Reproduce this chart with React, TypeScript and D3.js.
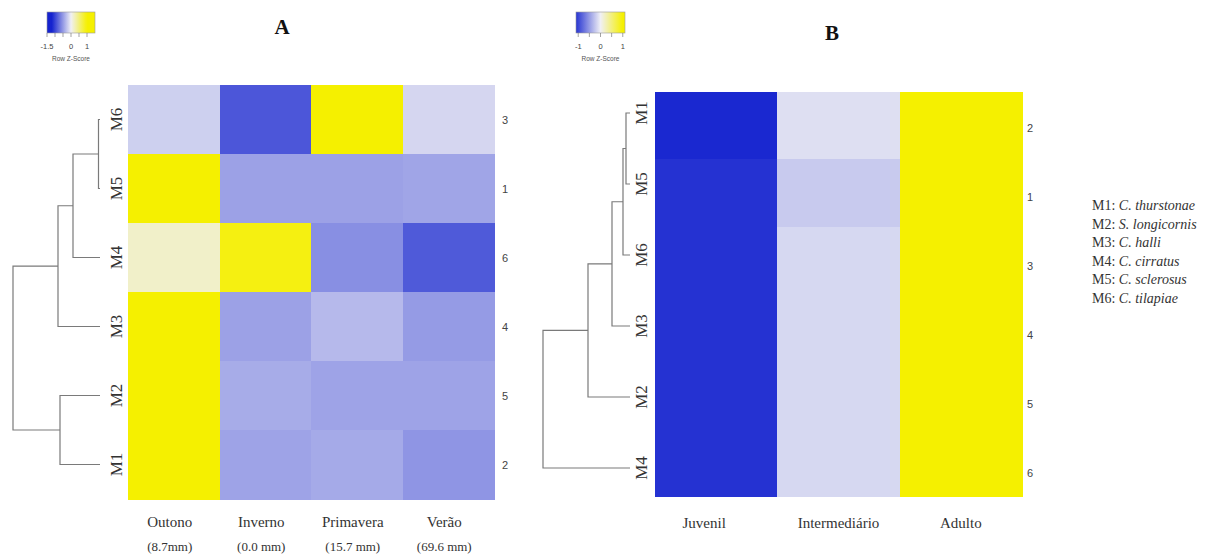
import React, { useEffect, useRef } from "react";
import * as d3 from "d3";

// panel A: seasons
const seasons = ["Outono", "Inverno", "Primavera", "Verão"];
const rainfall = ["(8.7mm)", "(0.0 mm)", "(15.7 mm)", "(69.6 mm)"];
const rowsA = ["M6", "M5", "M4", "M3", "M2", "M1"];
const rowNumsA = ["3", "1", "6", "4", "5", "2"];
// row z-scores, one array per row (top to bottom)
const zA_M6 = [-0.19, -0.9, 1.45, -0.15];
const zA_M5 = [1.45, -0.46, -0.46, -0.44];
const zA_M4 = [0.18, 0.93, -0.57, -0.88];
const zA_M3 = [1.45, -0.46, -0.32, -0.5];
const zA_M2 = [1.45, -0.4, -0.45, -0.45];
const zA_M1 = [1.45, -0.45, -0.41, -0.53];
const zA = [zA_M6, zA_M5, zA_M4, zA_M3, zA_M2, zA_M1];

// panel B: life stages
const stages = ["Juvenil", "Intermediário", "Adulto"];
const rowsB = ["M1", "M5", "M6", "M3", "M2", "M4"];
const rowNumsB = ["2", "1", "3", "4", "5", "6"];
const zB_Juvenil = [-1.17, -1.11, -1.11, -1.11, -1.11, -1.11];
const zB_Intermediario = [-0.1, -0.22, -0.14, -0.14, -0.14, -0.14];
const zB_Adulto = [1.15, 1.15, 1.15, 1.15, 1.15, 1.15];
const zB = [zB_Juvenil, zB_Intermediario, zB_Adulto];

// dendrograms (merge heights)
const treeA = {
  h: 87,
  children: [
    { h: 42, children: [{ h: 27, children: [{ h: 1.5, children: [{ name: "M6" }, { name: "M5" }] }, { name: "M4" }] }, { name: "M3" }] },
    { h: 40, children: [{ name: "M2" }, { name: "M1" }] },
  ],
};
const treeB = {
  h: 87,
  children: [
    { h: 42, children: [{ h: 18, children: [{ h: 7, children: [{ h: 4, children: [{ name: "M1" }, { name: "M5" }] }, { name: "M6" }] }, { name: "M3" }] }, { name: "M2" }] },
    { name: "M4" },
  ],
};

const legendCodes = ["M1:", "M2:", "M3:", "M4:", "M5:", "M6:"];
const legendSpecies = ["C. thurstonae", "S. longicornis", "C. halli", "C. cirratus", "C. sclerosus", "C. tilapiae"];

const keyTicksA = [-1.5, -1, -0.5, 0, 0.5, 1];
const keyLabelsA = [-1.5, 0, 1];
const keyTicksB = [-1, -0.5, 0, 0.5, 1];
const keyLabelsB = [-1, 0, 1];

const color = d3
  .scaleLinear<string>()
  .domain([-1.2, 0, 1])
  .range(["#1523cf", "#f0f0f5", "#f5f000"])
  .clamp(true);

const serif = "'Liberation Serif', 'DejaVu Serif', serif";
const sans = "'Liberation Sans', Arial, sans-serif";

function drawDendro(g, tree, yOf, leafX) {
  const x = d3.scaleLinear().domain([0, tree.h]).range([leafX, leafX - tree.h]);
  const layout = (node) => {
    if (!node.children) {
      node.y = yOf(node.name);
      node.x = x(0);
      return;
    }
    node.children.forEach(layout);
    node.y = d3.mean(node.children, (c) => c.y);
    node.x = x(node.h);
    const [a, b] = node.children;
    g.append("path")
      .attr("d", `M${a.x},${a.y}H${node.x}V${b.y}H${b.x}`)
      .attr("fill", "none")
      .attr("stroke", "#7a7a7a")
      .attr("stroke-width", 1.2);
  };
  layout(tree);
}

function drawKey(svg, id, x0, x1, y0, y1, domain, ticks, labels) {
  const kx = d3.scaleLinear().domain(domain).range([x0, x1]);
  const grad = svg.append("defs").append("linearGradient").attr("id", id);
  d3.range(0, 1.0001, 0.05).forEach((t) => {
    grad
      .append("stop")
      .attr("offset", t)
      .attr("stop-color", color(domain[0] + t * (domain[1] - domain[0])));
  });
  svg
    .append("rect")
    .attr("x", x0)
    .attr("y", y0)
    .attr("width", x1 - x0)
    .attr("height", y1 - y0)
    .attr("fill", `url(#${id})`)
    .attr("stroke", "#999")
    .attr("stroke-width", 0.6);
  ticks.forEach((t) => {
    svg
      .append("line")
      .attr("x1", kx(t))
      .attr("x2", kx(t))
      .attr("y1", y1)
      .attr("y2", y1 + 4)
      .attr("stroke", "#666")
      .attr("stroke-width", 0.6);
  });
  labels.forEach((t) => {
    svg
      .append("text")
      .attr("x", kx(t))
      .attr("y", y1 + 16)
      .attr("text-anchor", "middle")
      .attr("font-family", sans)
      .attr("font-size", 7.5)
      .attr("fill", "#444")
      .text(t);
  });
  svg
    .append("text")
    .attr("x", (x0 + x1) / 2)
    .attr("y", y1 + 28)
    .attr("text-anchor", "middle")
    .attr("font-family", sans)
    .attr("font-size", 6.5)
    .attr("fill", "#555")
    .text("Row Z-Score");
}

export default function App() {
  const svgRef = useRef(null);

  useEffect(() => {
    const svg = d3.select(svgRef.current);
    svg.selectAll("*").remove();

    // ---- Panel A ----
    const xA = d3.scaleBand().domain(seasons).range([128, 494]);
    const yA = d3.scaleBand().domain(rowsA).range([85, 499]);

    const gA = svg.append("g");
    rowsA.forEach((r, i) => {
      seasons.forEach((s, j) => {
        gA.append("rect")
          .attr("x", xA(s))
          .attr("y", yA(r))
          .attr("width", xA.bandwidth() + 0.5)
          .attr("height", yA.bandwidth() + 0.5)
          .attr("fill", color(zA[i][j]))
          .attr("shape-rendering", "crispEdges");
      });
      gA.append("text")
        .attr("x", 502)
        .attr("y", yA(r) + yA.bandwidth() / 2 + 4)
        .attr("font-family", sans)
        .attr("font-size", 11)
        .attr("fill", "#444")
        .text(rowNumsA[i]);
      gA.append("text")
        .attr("transform", `translate(122,${yA(r) + yA.bandwidth() / 2}) rotate(-90)`)
        .attr("text-anchor", "middle")
        .attr("font-family", serif)
        .attr("font-size", 17)
        .attr("fill", "#333")
        .text(r);
    });
    seasons.forEach((s, j) => {
      const cx = xA(s) + xA.bandwidth() / 2 - 4;
      gA.append("text")
        .attr("x", cx)
        .attr("y", 527)
        .attr("text-anchor", "middle")
        .attr("font-family", serif)
        .attr("font-size", 15)
        .attr("fill", "#333")
        .text(s);
      gA.append("text")
        .attr("x", cx)
        .attr("y", 551)
        .attr("text-anchor", "middle")
        .attr("font-family", serif)
        .attr("font-size", 13)
        .attr("fill", "#333")
        .text(rainfall[j]);
    });
    drawDendro(gA, treeA, (n) => yA(n) + yA.bandwidth() / 2, 100);

    svg
      .append("text")
      .attr("x", 282)
      .attr("y", 34)
      .attr("text-anchor", "middle")
      .attr("font-family", serif)
      .attr("font-weight", "bold")
      .attr("font-size", 21)
      .attr("fill", "#111")
      .text("A");
    drawKey(svg, "keyA", 47, 95, 12, 33, [-1.5, 1.5], keyTicksA, keyLabelsA);

    // ---- Panel B ----
    const xB = d3.scaleBand().domain(stages).range([655, 1022]);
    const yB = d3.scaleBand().domain(rowsB).range([92, 496]);
    const leafB = d3.scalePoint().domain(rowsB).range([113, 468]);
    const numB = d3.scalePoint().domain(rowsB).range([128, 473]);

    const gB = svg.append("g");
    stages.forEach((s, j) => {
      rowsB.forEach((r, i) => {
        gB.append("rect")
          .attr("x", xB(s))
          .attr("y", yB(r))
          .attr("width", xB.bandwidth() + 0.5)
          .attr("height", yB.bandwidth() + 0.5)
          .attr("fill", color(zB[j][i]))
          .attr("shape-rendering", "crispEdges");
      });
      gB.append("text")
        .attr("x", xB(s) + xB.bandwidth() / 2 - (j === 0 ? 12 : 0))
        .attr("y", 528)
        .attr("text-anchor", "middle")
        .attr("font-family", serif)
        .attr("font-size", 15)
        .attr("fill", "#333")
        .text(s);
    });
    rowsB.forEach((r, i) => {
      gB.append("text")
        .attr("x", 1027)
        .attr("y", numB(r) + 4)
        .attr("font-family", sans)
        .attr("font-size", 11)
        .attr("fill", "#444")
        .text(rowNumsB[i]);
      gB.append("text")
        .attr("transform", `translate(647,${leafB(r)}) rotate(-90)`)
        .attr("text-anchor", "middle")
        .attr("font-family", serif)
        .attr("font-size", 17)
        .attr("fill", "#333")
        .text(r);
    });
    drawDendro(gB, treeB, (n) => leafB(n), 630);

    svg
      .append("text")
      .attr("x", 832)
      .attr("y", 40)
      .attr("text-anchor", "middle")
      .attr("font-family", serif)
      .attr("font-weight", "bold")
      .attr("font-size", 21)
      .attr("fill", "#111")
      .text("B");
    drawKey(svg, "keyB", 576, 625, 12, 33, [-1.1, 1.1], keyTicksB, keyLabelsB);

    // species legend
    const lg = svg.append("g").attr("font-family", serif).attr("font-size", 14).attr("fill", "#333");
    legendCodes.forEach((c, i) => {
      const t = lg.append("text").attr("x", 1092).attr("y", 210 + i * 18.5);
      t.append("tspan").text(c + " ");
      t.append("tspan").attr("font-style", "italic").text(legendSpecies[i]);
    });
  }, []);

  return (
    <svg
      ref={svgRef}
      width={1218}
      height={556}
      style={{ position: "absolute", left: 0, top: 0, background: "#fff" }}
    />
  );
}
